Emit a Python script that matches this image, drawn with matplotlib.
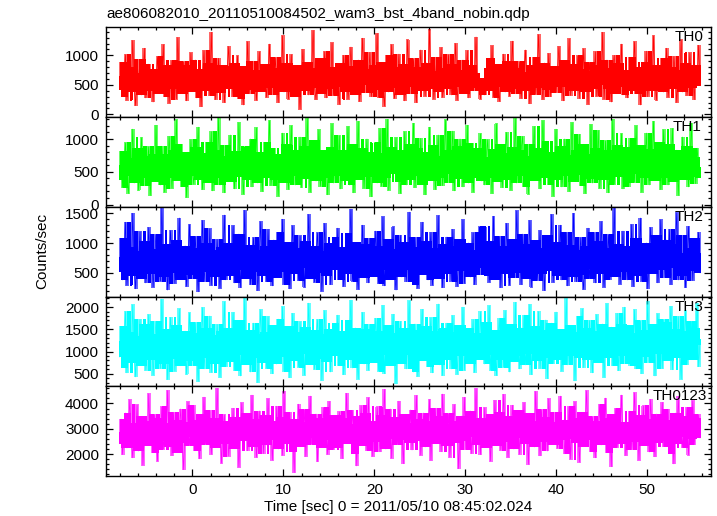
import numpy as np
import matplotlib
matplotlib.use("Agg")
import matplotlib.pyplot as plt
from matplotlib.ticker import MultipleLocator
from numpy.lib.stride_tricks import sliding_window_view

plt.rcParams['font.family'] = ['Liberation Sans', 'DejaVu Sans']

title = "ae806082010_20110510084502_wam3_bst_4band_nobin.qdp"
xlabel = "Time [sec] 0 = 2011/05/10 08:45:02.024"
ylabel = "Counts/sec"

t_start = -8.0
t_stop = 55.8

# counts/sec (coarse, one value per ~0.16 s)
th0 = [
    420, 880, 310, 650, 1010, 240, 560, 790, 380, 1250, 470, 150, 700, 590, 930, 330, 610, 1120, 280, 520, 850, 400, 690, 210, 760,
    540, 980, 360, 620, 450, 1180, 300, 710, 830, 190, 580, 910, 430, 670, 260, 1300, 510, 740, 350, 890, 600, 230, 820, 470, 1040,
    390, 640, 920, 280, 560, 760, 130, 680, 1080, 410, 530, 870, 320, 1390, 480, 720, 250, 600, 950, 370, 660, 820, 200, 540, 780,
    1150, 440, 620, 300, 860, 510, 990, 270, 700, 580, 160, 810, 460, 1230, 350, 630, 900, 420, 740, 240, 570, 1060, 390, 680, 520,
    840, 290, 610, 1190, 450, 720, 340, 960, 560, 200, 780, 490, 1330, 380, 650, 870, 260, 590, 1010, 430, 700, 310, 820, 550, 90,
    690, 1100, 400, 620, 880, 330, 540, 770, 1420, 460, 250, 730, 590, 940, 360, 670, 1060, 280, 510, 800, 440, 1210, 320, 610, 750,
    480, 170, 860, 570, 1000, 390, 700, 260, 630, 1140, 450, 810, 340, 590, 920, 220, 680, 1290, 500, 760, 370, 600, 1050, 300, 540,
    830, 420, 1370, 290, 650, 880, 510, 140, 720, 990, 380, 610, 1180, 450, 270, 790, 560, 1020, 340, 690, 850, 230, 580, 1260, 470,
    710, 360, 940, 530, 200, 800, 620, 1090, 410, 670, 310, 870, 550, 1440, 440, 720, 260, 600, 960, 380, 640, 1130, 290, 510, 780,
    430, 1010, 570, 330, 850, 660, 1200, 240, 590, 740, 470, 920, 350, 630, 1080, 280, 560, 820, 400, 700, 1310, 450, 610, 260, 540,
    610, 330, 780, 520, 950, 410, 1160, 290, 680, 840, 470, 220, 730, 560, 1020, 380, 650, 900, 310, 590, 1240, 440, 770, 350, 620,
    890, 270, 540, 710, 1090, 400, 630, 180, 820, 500, 960, 340, 690, 1350, 460, 580, 250, 870, 720, 420, 1030, 300, 660, 540, 810,
    370, 740, 1150, 480, 600, 230, 910, 550, 700, 1280, 320, 640, 850, 410, 560, 990, 270, 760, 480, 1110, 390, 620, 170, 880, 530,
    720, 440, 1060, 310, 590, 830, 500, 1390, 260, 680, 920, 430, 610, 210, 770, 1000, 360, 550, 860, 470, 1190, 330, 640, 750, 280,
    580, 960, 410, 700, 1230, 350, 520, 790, 160, 650, 880, 450, 1070, 300, 610, 740, 400, 1330, 560, 240, 820, 690, 470, 940, 380,
    660, 1120, 290, 510, 800, 430, 980, 620, 200, 740, 560, 1260, 380, 690, 870, 320, 600, 1040, 460, 720, 250, 830, 570, 1170, 490,
]
th1 = [
    380, 810, 260, 590, 940, 450, 170, 700, 520, 1150, 330, 640, 860, 220, 560, 1020, 410, 730, 290, 620, 880, 140, 500, 770, 350,
    1210, 460, 680, 300, 890, 540, 190, 760, 420, 1040, 610, 250, 830, 490, 1290, 370, 650, 920, 280, 570, 710, 110, 800, 440, 990,
    520, 310, 870, 640, 1180, 390, 600, 230, 780, 470, 950, 340, 680, 1110, 210, 550, 820, 420, 1320, 300, 610, 740, 180, 900, 480,
    660, 1060, 350, 570, 240, 810, 500, 1250, 430, 720, 160, 620, 880, 390, 530, 1000, 270, 690, 450, 1170, 330, 590, 800, 200, 560,
    940, 410, 700, 1280, 290, 540, 850, 380, 620, 130, 760, 480, 1090, 340, 660, 910, 230, 580, 1200, 440, 710, 300, 830, 520, 1030,
    260, 620, 880, 400, 1310, 550, 190, 740, 470, 980, 360, 650, 1140, 280, 590, 820, 420, 700, 150, 870, 510, 1230, 330, 630, 760,
    450, 1050, 240, 580, 830, 370, 690, 1190, 300, 540, 910, 180, 720, 460, 1270, 390, 600, 850, 250, 670, 1000, 430, 560, 120, 790,
    500, 940, 330, 650, 1160, 280, 610, 780, 410, 1300, 220, 560, 870, 470, 700, 1020, 350, 590, 170, 830, 540, 1110, 300, 680, 920,
    390, 720, 1240, 260, 570, 860, 440, 1010, 310, 630, 150, 790, 500, 1180, 370, 660, 900, 230, 550, 1060, 420, 740, 290, 610, 1290,
    480, 820, 340, 700, 1120, 210, 590, 880, 400, 1000, 560, 270, 760, 450, 1210, 330, 640, 930, 190, 520, 850, 410, 690, 1080, 360,
    560, 300, 720, 990, 410, 650, 170, 840, 480, 1230, 350, 600, 910, 260, 530, 780, 1100, 390, 640, 220, 870, 470, 1310, 330, 700,
    450, 830, 1040, 280, 590, 740, 160, 920, 510, 660, 1190, 370, 560, 850, 240, 710, 1280, 420, 600, 960, 310, 540, 800, 130, 680,
    1150, 390, 620, 880, 270, 510, 1000, 440, 750, 200, 620, 1250, 350, 580, 830, 460, 1070, 290, 690, 920, 170, 560, 760, 400, 1220,
    330, 640, 860, 490, 1130, 250, 600, 790, 380, 970, 540, 180, 820, 460, 1300, 310, 670, 900, 430, 600, 1080, 240, 730, 520, 870,
    280, 1010, 560, 740, 340, 1200, 470, 620, 900, 190, 680, 410, 1090, 560, 300, 840, 630, 1270, 370, 720, 510, 950, 230, 660, 1140,
    420, 780, 300, 920, 610, 1160, 350, 560, 830, 140, 700, 490, 1030, 380, 640, 880, 270, 590, 1240, 450, 720, 320, 860, 570, 420,
]
th2 = [
    520, 1080, 380, 760, 1350, 290, 640, 920, 460, 1500, 570, 230, 850, 700, 1190, 410, 780, 1020, 330, 610, 1260, 480, 890, 260, 730,
    1140, 550, 820, 360, 1590, 670, 440, 970, 210, 740, 1210, 500, 860, 320, 1040, 630, 1420, 390, 780, 580, 950, 270, 700, 1310, 470,
    820, 400, 1110, 610, 180, 900, 720, 1380, 350, 660, 990, 520, 1240, 290, 760, 870, 430, 1060, 600, 240, 930, 690, 1470, 380, 640,
    1000, 460, 780, 1290, 330, 710, 560, 1150, 250, 840, 620, 1550, 410, 730, 960, 300, 680, 1090, 520, 880, 200, 770, 1360, 450, 620,
    940, 350, 1230, 590, 800, 280, 1050, 660, 420, 1180, 740, 520, 1400, 310, 860, 630, 1010, 230, 750, 1290, 480, 690, 900, 370, 1120,
    580, 820, 260, 1020, 700, 1480, 410, 630, 950, 340, 780, 1170, 500, 860, 190, 720, 1330, 450, 610, 990, 300, 840, 1090, 560, 680,
    1250, 390, 740, 920, 270, 600, 1160, 480, 830, 1570, 360, 690, 1010, 540, 220, 880, 650, 1300, 420, 760, 970, 330, 1080, 600, 790,
    440, 1200, 710, 320, 950, 560, 1440, 280, 820, 670, 1060, 390, 740, 1270, 500, 210, 890, 620, 1130, 430, 780, 1010, 350, 690, 1520,
    560, 860, 310, 1090, 640, 240, 930, 750, 1350, 470, 700, 1020, 380, 830, 1180, 290, 660, 910, 520, 1460, 410, 770, 250, 980, 620,
    1100, 490, 800, 360, 1230, 680, 940, 270, 730, 1060, 540, 1390, 320, 850, 610, 1000, 430, 720, 1170, 300, 650, 880, 470, 1280, 590,
    730, 1270, 460, 880, 340, 1020, 610, 1450, 390, 800, 560, 1110, 250, 760, 940, 480, 1330, 650, 290, 870, 1060, 420, 700, 1540, 510,
    860, 300, 1150, 620, 980, 410, 720, 1380, 260, 830, 560, 1040, 370, 670, 1210, 480, 900, 200, 780, 1120, 530, 650, 1480, 340, 760,
    1010, 450, 690, 1300, 380, 820, 570, 1180, 280, 730, 960, 430, 1500, 610, 350, 880, 740, 1090, 470, 220, 940, 660, 1250, 400, 810,
    570, 1170, 330, 750, 1030, 480, 1360, 620, 260, 900, 710, 1140, 390, 840, 590, 1600, 440, 690, 980, 310, 770, 1200, 520, 860, 380,
    940, 610, 1310, 270, 790, 1080, 450, 700, 1420, 360, 850, 560, 1000, 230, 760, 1260, 490, 910, 640, 1120, 330, 720, 1390, 550, 800,
    420, 1050, 680, 1230, 300, 870, 590, 970, 1510, 380, 740, 1130, 460, 820, 250, 690, 1280, 540, 910, 370, 1070, 630, 820, 1180, 500,
]
th3 = [
    880, 1560, 640, 1230, 1900, 520, 1100, 1420, 760, 2050, 980, 430, 1340, 1150, 1720, 690, 1260, 1610, 580, 1020, 1830, 810, 1380, 470, 1170,
    1680, 930, 1290, 620, 2180, 1060, 740, 1490, 370, 1210, 1770, 850, 1330, 560, 1580, 1000, 1960, 680, 1250, 920, 1460, 490, 1120, 1870, 790,
    1300, 690, 1650, 1010, 330, 1400, 1180, 1990, 610, 1090, 1520, 860, 1800, 530, 1230, 1370, 740, 1610, 980, 420, 1450, 1120, 2120, 660, 1040,
    1530, 780, 1260, 1880, 570, 1150, 930, 1700, 450, 1330, 1020, 2200, 710, 1190, 1480, 540, 1100, 1640, 860, 1390, 300, 1250, 1940, 760, 1010,
    1440, 620, 1790, 970, 1290, 500, 1580, 1070, 720, 1730, 1200, 880, 2010, 560, 1360, 1040, 1560, 410, 1220, 1860, 800, 1130, 1420, 650, 1670,
    950, 1310, 470, 1540, 1140, 2090, 710, 1030, 1470, 600, 1260, 1720, 840, 1380, 350, 1170, 1920, 770, 1000, 1500, 540, 1350, 1630, 920, 1110,
    1820, 680, 1210, 1450, 480, 980, 1700, 820, 1330, 2160, 630, 1130, 1530, 900, 380, 1400, 1060, 1880, 720, 1240, 1490, 580, 1610, 990, 1280,
    760, 1750, 1160, 560, 1460, 930, 2040, 500, 1300, 1090, 1590, 690, 1200, 1840, 850, 270, 1410, 1020, 1680, 740, 1270, 1520, 610, 1130, 2140,
    930, 1380, 540, 1620, 1050, 440, 1470, 1220, 1950, 800, 1140, 1560, 660, 1320, 1760, 520, 1080, 1450, 880, 2070, 700, 1260, 460, 1510, 1010,
    1640, 830, 1290, 610, 1810, 1110, 1430, 490, 1190, 1590, 920, 2000, 580, 1350, 1030, 1520, 740, 1170, 1720, 530, 1060, 1400, 820, 1900, 980,
    1260, 720, 1650, 940, 2030, 580, 1310, 1090, 1480, 460, 1200, 1750, 820, 1380, 650, 1920, 1010, 1290, 540, 1610, 1150, 770, 2110, 900, 1360,
    610, 1530, 1080, 1820, 700, 1240, 950, 2060, 480, 1350, 1160, 1570, 790, 1900, 620, 1220, 1470, 860, 1710, 390, 1280, 1030, 1640, 730, 1410,
    1890, 830, 1190, 1500, 560, 1370, 1090, 2190, 700, 1260, 1580, 920, 1440, 340, 1150, 1780, 870, 1330, 1960, 640, 1210, 1520, 810, 1700, 1060,
    520, 1460, 1170, 1830, 750, 1290, 990, 1620, 420, 1350, 2080, 860, 1180, 1550, 680, 1420, 1040, 1860, 570, 1300, 1610, 900, 2000, 730, 1230,
    1580, 690, 1320, 1050, 1940, 610, 1400, 1170, 1690, 500, 1250, 1480, 890, 2130, 760, 1370, 1010, 1600, 450, 1290, 1850, 950, 1430, 620, 1720,
    1110, 1660, 800, 1380, 2020, 590, 1240, 1500, 870, 1790, 1020, 380, 1450, 1200, 1930, 710, 1330, 1060, 1680, 820, 1510, 1160, 2090, 660, 1270,
]
th0123 = [
    2410, 3380, 1980, 2870, 3620, 2240, 3050, 4140, 2560, 1850, 3210, 2690, 3940, 2120, 2980, 3490, 1560, 2770, 3300, 2350, 4380, 2620, 3120, 2050, 3560,
    2880, 1720, 3410, 2540, 3860, 2190, 3000, 2720, 4510, 2280, 3190, 1940, 3650, 2600, 3330, 2060, 2910, 3780, 2450, 1380, 3240, 2810, 4060, 2330, 3090,
    2690, 3920, 2150, 3340, 2470, 1810, 3560, 2930, 4250, 2380, 3070, 2580, 3710, 1990, 2840, 3420, 2260, 4600, 2730, 3160, 1640, 2990, 3550, 2400, 3270,
    1920, 3030, 2640, 3810, 2210, 3460, 2780, 1480, 3120, 4020, 2520, 2940, 3600, 2130, 3250, 2700, 4330, 2310, 3380, 1870, 2860, 3700, 2490, 3140, 2020,
    3520, 2360, 4180, 2750, 3060, 1760, 3300, 2580, 3890, 2200, 2970, 3450, 1950, 4470, 2680, 3150, 2430, 3640, 2100, 2890, 1270, 3350, 2620, 3970, 2290,
    3100, 2540, 3750, 1900, 3230, 2830, 4290, 2390, 3040, 2660, 3580, 1700, 2920, 3400, 2250, 3830, 2570, 3110, 1990, 4080, 2740, 3290, 2180, 3510, 2880,
    2270, 3670, 2960, 1820, 3390, 2610, 4400, 2420, 3180, 2790, 3730, 2030, 3020, 1530, 3480, 2690, 3910, 2330, 2850, 3600, 2140, 4220, 2710, 3060, 1910,
    3290, 2480, 3860, 2920, 2090, 3540, 2750, 4560, 2200, 3130, 2630, 3780, 1840, 3250, 2900, 3440, 2370, 4090, 2580, 3010, 1620, 3560, 2810, 3200, 2460,
    3740, 2160, 3080, 2700, 4310, 2520, 3370, 1960, 2940, 3620, 2280, 3160, 2850, 4150, 1750, 3280, 2600, 3810, 2410, 2990, 3470, 2090, 4370, 2740, 3150,
    2330, 3590, 1880, 3020, 2770, 3950, 2460, 3300, 1420, 2880, 3500, 2550, 4240, 2180, 3110, 2690, 3700, 2020, 3360, 2820, 4590, 2390, 3080, 1980, 3420,
    2610, 3830, 2250, 3170, 2930, 1720, 3550, 2700, 4120, 2340, 3040, 3640, 2150, 2890, 4360, 2500, 3260, 1870, 3490, 2780, 3930, 2200, 3120, 2640, 3720,
    1990, 3310, 2840, 4030, 2420, 3070, 1590, 3590, 2730, 3280, 2280, 4470, 2660, 3150, 1930, 3760, 2510, 2960, 3440, 2120, 4180, 2800, 3230, 2380, 3050,
    3630, 2230, 2980, 4290, 2560, 3340, 2010, 3100, 2760, 3870, 1800, 3210, 2620, 4060, 2450, 3390, 1680, 2910, 3650, 2300, 3020, 4500, 2590, 3180, 2110,
    3480, 2710, 1850, 3300, 2940, 3960, 2360, 3130, 2570, 4210, 2060, 3410, 2800, 1500, 3570, 2680, 3800, 2260, 3060, 2870, 4330, 2420, 3260, 1940, 3020,
    2750, 3690, 2170, 3040, 4420, 2500, 3220, 1760, 3510, 2640, 3900, 2330, 2990, 3350, 2080, 4160, 2780, 3140, 1890, 3580, 2460, 3280, 2900, 4040, 2290,
    3110, 2540, 3770, 2020, 3330, 2860, 1610, 3620, 2410, 4280, 2690, 3090, 2250, 3470, 2960, 3840, 1960, 3200, 2610, 4100, 2370, 3390, 2820, 3560, 2640,
]

names = ["TH0", "TH1", "TH2", "TH3", "TH0123"]
series = [th0, th1, th2, th3, th0123]
colors = ["#ff0000", "#00ff00", "#0000ff", "#00ffff", "#ff00ff"]
ylims = [(-45, 1475), (-33, 1335), (100, 1610), (218, 2240), (1130, 4680)]
ymajor = [500, 500, 500, 500, 1000]
yminor = [100, 100, 100, 100, 200]
label_x = [703, 701, 703, 703, 707]  # right edge of panel label, px

W, H = 717, 516
fig = plt.figure(figsize=(W / 100, H / 100), dpi=100)

left, right = 106, 711
top, bottom = 27.3, 476
ph = (bottom - top) / 5

axes = []
for i in range(5):
    y0 = 1 - (top + (i + 1) * ph) / H
    ax = fig.add_axes([left / W, y0, (right - left) / W, ph / H])
    axes.append(ax)

    vals = np.asarray(series[i], dtype=float)
    t = np.linspace(t_start, t_stop, len(vals))

    # solid core: 2nd lowest .. 2nd highest of each 7-bin neighbourhood
    win = np.sort(sliding_window_view(np.pad(vals, 3, mode='edge'), 7), axis=1)
    ax.fill_between(t, win[:, 1], win[:, 5], step='mid', facecolor=colors[i],
                    edgecolor='none', antialiased=False)
    # spikes: span swept between neighbouring bins, a bit lighter
    lo = np.minimum(vals[:-1], vals[1:])
    hi = np.maximum(vals[:-1], vals[1:])
    ax.fill_between(t, np.append(lo, lo[-1]), np.append(hi, hi[-1]),
                    step='post', facecolor=colors[i], edgecolor='none',
                    alpha=0.6, antialiased=False)
    ax.plot(t, vals, color=colors[i], lw=0.5)

    ax.set_xlim(-9.5, 57.0)
    ax.set_ylim(*ylims[i])
    ax.xaxis.set_major_locator(MultipleLocator(10))
    ax.xaxis.set_minor_locator(MultipleLocator(2))
    ax.yaxis.set_major_locator(MultipleLocator(ymajor[i]))
    ax.yaxis.set_minor_locator(MultipleLocator(yminor[i]))
    ax.tick_params(which='both', direction='in', top=True, right=True,
                   labelsize=11, width=0.9, pad=5)
    ax.tick_params(which='major', length=5)
    ax.tick_params(which='minor', length=2.5)
    for s in ax.spines.values():
        s.set_linewidth(1.0)
    if i < 4:
        ax.tick_params(labelbottom=False)

    ax.text((label_x[i] - left) / (right - left), 1 - 10 / ph, names[i],
            transform=ax.transAxes, ha='right', va='center', fontsize=11)

axes[-1].set_xlabel(xlabel, fontsize=11)
axes[-1].xaxis.set_label_coords((398 - left) / (right - left), -0.27)
fig.text(42 / W, 1 - 251 / H, ylabel, rotation=90, ha='center', va='center', fontsize=11)
fig.text(left / W, 1 - 14 / H, title, ha='left', va='center', fontsize=11)

fig.savefig("out.png", dpi=100)
